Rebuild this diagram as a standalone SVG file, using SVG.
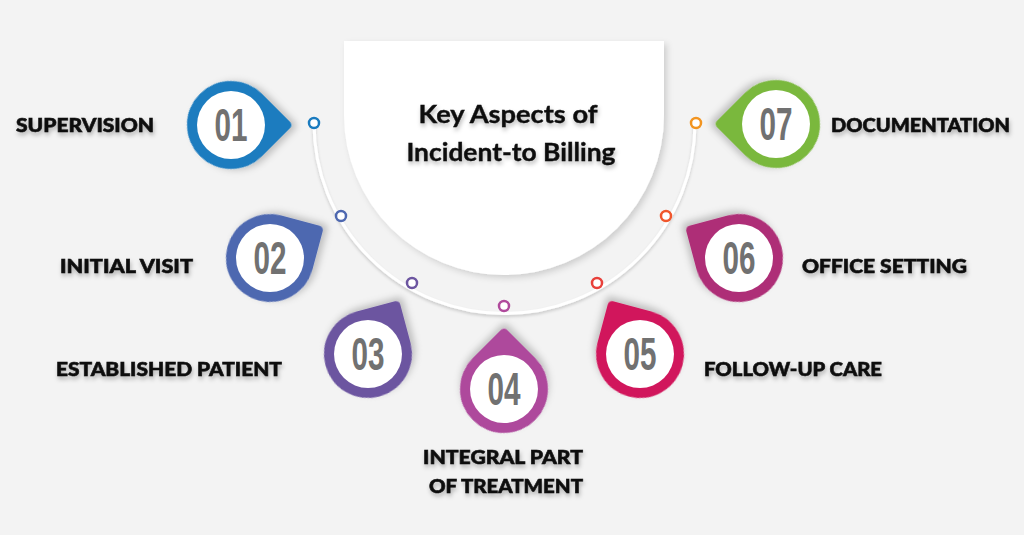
<svg xmlns="http://www.w3.org/2000/svg" width="1024" height="535" viewBox="0 0 1024 535">
<defs>
<filter id="sh" x="-30%" y="-30%" width="160%" height="160%"><feDropShadow dx="3" dy="4" stdDeviation="3.5" flood-color="#000" flood-opacity="0.22"/></filter>
<filter id="csh" x="-10%" y="-10%" width="125%" height="125%"><feDropShadow dx="3" dy="3" stdDeviation="3" flood-color="#000" flood-opacity="0.15"/></filter>
<filter id="tsh" x="-10%" y="-40%" width="120%" height="200%"><feDropShadow dx="1" dy="3" stdDeviation="2" flood-color="#000" flood-opacity="0.28"/></filter>
<filter id="ash" x="-10%" y="-10%" width="120%" height="130%"><feDropShadow dx="0" dy="2" stdDeviation="1.5" flood-color="#000" flood-opacity="0.18"/></filter>
<path id="drop" d="M0,44 A44,44 0 1 1 44,0 L44,39 Q44,44 39,44 Z"/>
<style>
.bg{fill:#f3f3f3}
.num{font-family:"Liberation Sans","DejaVu Sans",sans-serif;font-weight:bold;font-size:47px;fill:#717171;text-anchor:middle}
.lbl{font-family:Lato,"Open Sans","Liberation Sans",sans-serif;font-weight:900;font-size:19px;fill:#111;stroke:#111;stroke-width:0.6}
.ttl{font-family:Lato,"Open Sans","Liberation Sans",sans-serif;font-weight:bold;font-size:25px;fill:#111;stroke:#111;stroke-width:0.4;text-anchor:middle}
.dot{fill:#fff;stroke-width:2.5}
.inner{fill:#fff}
</style>
</defs>
<rect class="bg" x="0" y="0" width="1024" height="535"/>

<g id="center">
<path d="M344,41 H664 V115 A160,160 0 0 1 344,115 Z" fill="#fff" filter="url(#csh)"/>
<text class="ttl" x="508" y="123" textLength="179" lengthAdjust="spacingAndGlyphs" filter="url(#tsh)">Key Aspects of</text>
<text class="ttl" x="511" y="161" textLength="209" lengthAdjust="spacingAndGlyphs" filter="url(#tsh)">Incident-to Billing</text>
</g>

<g id="connectors">
<path d="M314,123 A190,190 0 0 0 695,123" fill="none" stroke="#fff" stroke-width="3" filter="url(#ash)"/>
<circle class="dot" cx="314" cy="123" r="5" stroke="#1a7bbf"/>
<circle class="dot" cx="341" cy="216" r="5" stroke="#4e68b0"/>
<circle class="dot" cx="412" cy="283" r="5" stroke="#6c55a0"/>
<circle class="dot" cx="504" cy="306" r="5" stroke="#b04a9c"/>
<circle class="dot" cx="597" cy="283" r="5" stroke="#e8403a"/>
<circle class="dot" cx="666" cy="216" r="5" stroke="#f0562c"/>
<circle class="dot" cx="696" cy="123" r="5" stroke="#f29420"/>
</g>

<g id="n01">
<use href="#drop" transform="translate(231,125) rotate(-45)" fill="#1a7bbf" filter="url(#sh)"/>
<circle class="inner" cx="231" cy="125" r="34"/>
<text class="num" x="231" y="141" textLength="33" lengthAdjust="spacingAndGlyphs">01</text>
<text class="lbl" x="16" y="132" textLength="138" lengthAdjust="spacingAndGlyphs" filter="url(#tsh)">SUPERVISION</text>
</g>

<g id="n02">
<use href="#drop" transform="translate(270,258) rotate(-75)" fill="#4e68b0" filter="url(#sh)"/>
<circle class="inner" cx="270" cy="258" r="34"/>
<text class="num" x="270" y="274" textLength="33" lengthAdjust="spacingAndGlyphs">02</text>
<text class="lbl" x="60" y="273" textLength="133" lengthAdjust="spacingAndGlyphs" filter="url(#tsh)">INITIAL VISIT</text>
</g>

<g id="n03">
<use href="#drop" transform="translate(368,354) rotate(-105)" fill="#6c55a0" filter="url(#sh)"/>
<circle class="inner" cx="368" cy="354" r="34"/>
<text class="num" x="368" y="370" textLength="33" lengthAdjust="spacingAndGlyphs">03</text>
<text class="lbl" x="56" y="376" textLength="226" lengthAdjust="spacingAndGlyphs" filter="url(#tsh)">ESTABLISHED PATIENT</text>
</g>

<g id="n04">
<use href="#drop" transform="translate(504,389) rotate(-135)" fill="#ae4a9c" filter="url(#sh)"/>
<circle class="inner" cx="504" cy="389" r="34"/>
<text class="num" x="504" y="405" textLength="33" lengthAdjust="spacingAndGlyphs">04</text>
<text class="lbl" x="423" y="464" textLength="160" lengthAdjust="spacingAndGlyphs" filter="url(#tsh)">INTEGRAL PART</text>
<text class="lbl" x="429" y="493" textLength="154" lengthAdjust="spacingAndGlyphs" filter="url(#tsh)">OF TREATMENT</text>
</g>

<g id="n05">
<use href="#drop" transform="translate(640,354) rotate(-165)" fill="#d1185c" filter="url(#sh)"/>
<circle class="inner" cx="640" cy="354" r="34"/>
<text class="num" x="640" y="370" textLength="33" lengthAdjust="spacingAndGlyphs">05</text>
<text class="lbl" x="704" y="376" textLength="178" lengthAdjust="spacingAndGlyphs" filter="url(#tsh)">FOLLOW-UP CARE</text>
</g>

<g id="n06">
<use href="#drop" transform="translate(739,258) rotate(-195)" fill="#ae2f77" filter="url(#sh)"/>
<circle class="inner" cx="739" cy="258" r="34"/>
<text class="num" x="739" y="274" textLength="33" lengthAdjust="spacingAndGlyphs">06</text>
<text class="lbl" x="802" y="273" textLength="165" lengthAdjust="spacingAndGlyphs" filter="url(#tsh)">OFFICE SETTING</text>
</g>

<g id="n07">
<use href="#drop" transform="translate(776,124) rotate(135)" fill="#7ab83e" filter="url(#sh)"/>
<circle class="inner" cx="776" cy="124" r="34"/>
<text class="num" x="776" y="140" textLength="33" lengthAdjust="spacingAndGlyphs">07</text>
<text class="lbl" x="831" y="132" textLength="179" lengthAdjust="spacingAndGlyphs" filter="url(#tsh)">DOCUMENTATION</text>
</g>
</svg>
